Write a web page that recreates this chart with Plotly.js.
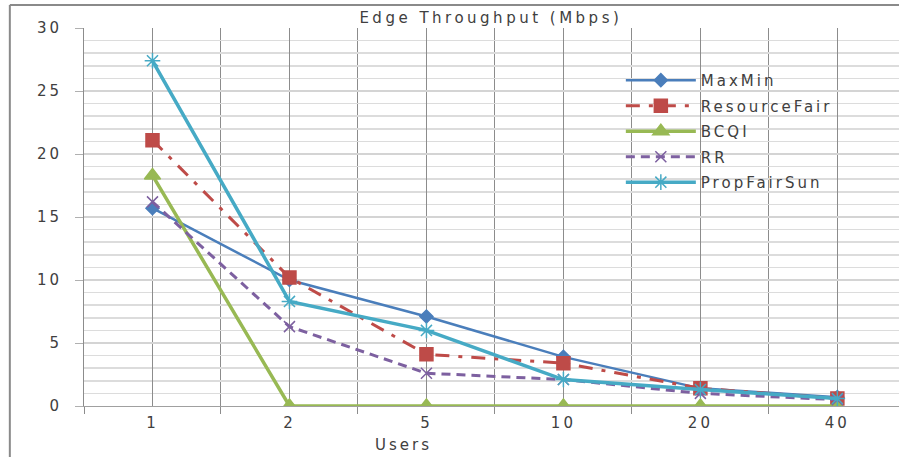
<!DOCTYPE html>
<html>
<head>
<meta charset="utf-8">
<script src="https://cdn.plot.ly/plotly-3.0.1.min.js"></script>
<style>
html,body{margin:0;padding:0;background:#fff;}
#chart{width:899px;height:457px;}
svg text{letter-spacing:3px;}
svg .gtitle{letter-spacing:3.5px;}
</style>
</head>
<body>
<div id="chart"></div>
<script>
const users = ["1", "2", "5", "10", "20", "40"];
const maxMin = [15.7, 10.0, 7.1, 3.9, 1.4, 0.7];
const resourceFair = [21.1, 10.2, 4.1, 3.4, 1.4, 0.6];
const bcqi = [18.3, 0, 0, 0, 0, 0];
const rr = [16.2, 6.3, 2.6, 2.1, 1.0, 0.5];
const propFairSun = [27.4, 8.3, 6.0, 2.1, 1.3, 0.6];

const xIdx = users.map((u, i) => i);
const font = "DejaVu Sans, Verdana, sans-serif";

const traces = [
  {name: "MaxMin", y: maxMin, color: "#4a7ebb", dash: "solid", width: 2.5, symbol: "diamond", size: 10},
  {name: "ResourceFair", y: resourceFair, color: "#be4b48", dash: "14px,9px,4px,9px", width: 3, symbol: "square", size: 13},
  {name: "BCQI", y: bcqi, color: "#98b954", dash: "solid", width: 3.5, symbol: "triangle-up", size: 14},
  {name: "RR", y: rr, color: "#7d60a0", dash: "9px,6px", width: 3, symbol: "x-thin-open", size: 11},
  {name: "PropFairSun", y: propFairSun, color: "#46aac5", dash: "solid", width: 3.5, symbol: "asterisk-open", size: 13}
].map((t, i) => ({
  type: "scatter", mode: "lines+markers", name: t.name, x: xIdx, y: t.y,
  legendgroup: "g" + i,
  line: {color: t.color, width: t.width, dash: t.dash},
  marker: {symbol: t.symbol, size: t.size, color: t.color, line: {color: t.color, width: 1.5}}
}));

const layout = {
  width: 899, height: 457,
  margin: {l: 84, r: 0, t: 28, b: 51},
  paper_bgcolor: "#ffffff", plot_bgcolor: "#ffffff",
  font: {family: font, color: "#404040", size: 13},
  title: {text: "Edge Throughput (Mbps)", x: 0.546, xref: "container", y: 0.962, yref: "container", yanchor: "middle", xanchor: "center", font: {size: 15, color: "#404040", family: font}},
  showlegend: true,
  legend: {x: 0.6587, y: 0.905, xanchor: "left", yanchor: "top", bgcolor: "rgba(0,0,0,0)", font: {size: 15, family: font, color: "#404040"}, tracegroupgap: 3, itemwidth: 70},
  xaxis: {
    range: [-0.5, 5.45], tickmode: "array", tickvals: xIdx, ticktext: users,
    showgrid: true, gridcolor: "#8c8c8c", gridwidth: 1,
    ticks: "", zeroline: false, showline: true, linecolor: "#a0a0a0", linewidth: 1,
    ticklabelstandoff: 3,
    tickfont: {size: 15, family: font, color: "#404040"},
    minor: {tickmode: "linear", tick0: -0.5, dtick: 1, showgrid: true, gridcolor: "#8c8c8c", gridwidth: 1, ticks: "outside", ticklen: 7, tickcolor: "#8c8c8c"}
  },
  yaxis: {
    range: [0, 30], tickmode: "linear", tick0: 0, dtick: 5,
    showgrid: true, gridcolor: "#d4d4d4", gridwidth: 1.5,
    ticks: "outside", ticklen: 8, tickcolor: "#b0b0b0",
    ticklabelstandoff: 10,
    zeroline: false, showline: true, linecolor: "#8c8c8c", linewidth: 1,
    tickfont: {size: 15, family: font, color: "#404040"},
    minor: {dtick: 1, showgrid: true, gridcolor: "#dcdcdc", gridwidth: 1.5}
  },
  annotations: [
    {text: "Users", xref: "paper", yref: "paper", x: 0.392, y: -0.102, xanchor: "center", yanchor: "middle", showarrow: false, font: {size: 15, family: font, color: "#404040"}}
  ],
  shapes: [
    {type: "line", xref: "paper", yref: "paper", x0: -0.091, x1: -0.091, y0: 1.061, y1: -0.2, line: {color: "#8a8a8a", width: 2}},
    {type: "line", xref: "paper", yref: "paper", x0: -0.091, x1: 1.0, y0: 1.061, y1: 1.061, line: {color: "#8a8a8a", width: 2}}
  ]
};

Plotly.newPlot("chart", traces, layout, {staticPlot: true, displayModeBar: false});
</script>
</body>
</html>
